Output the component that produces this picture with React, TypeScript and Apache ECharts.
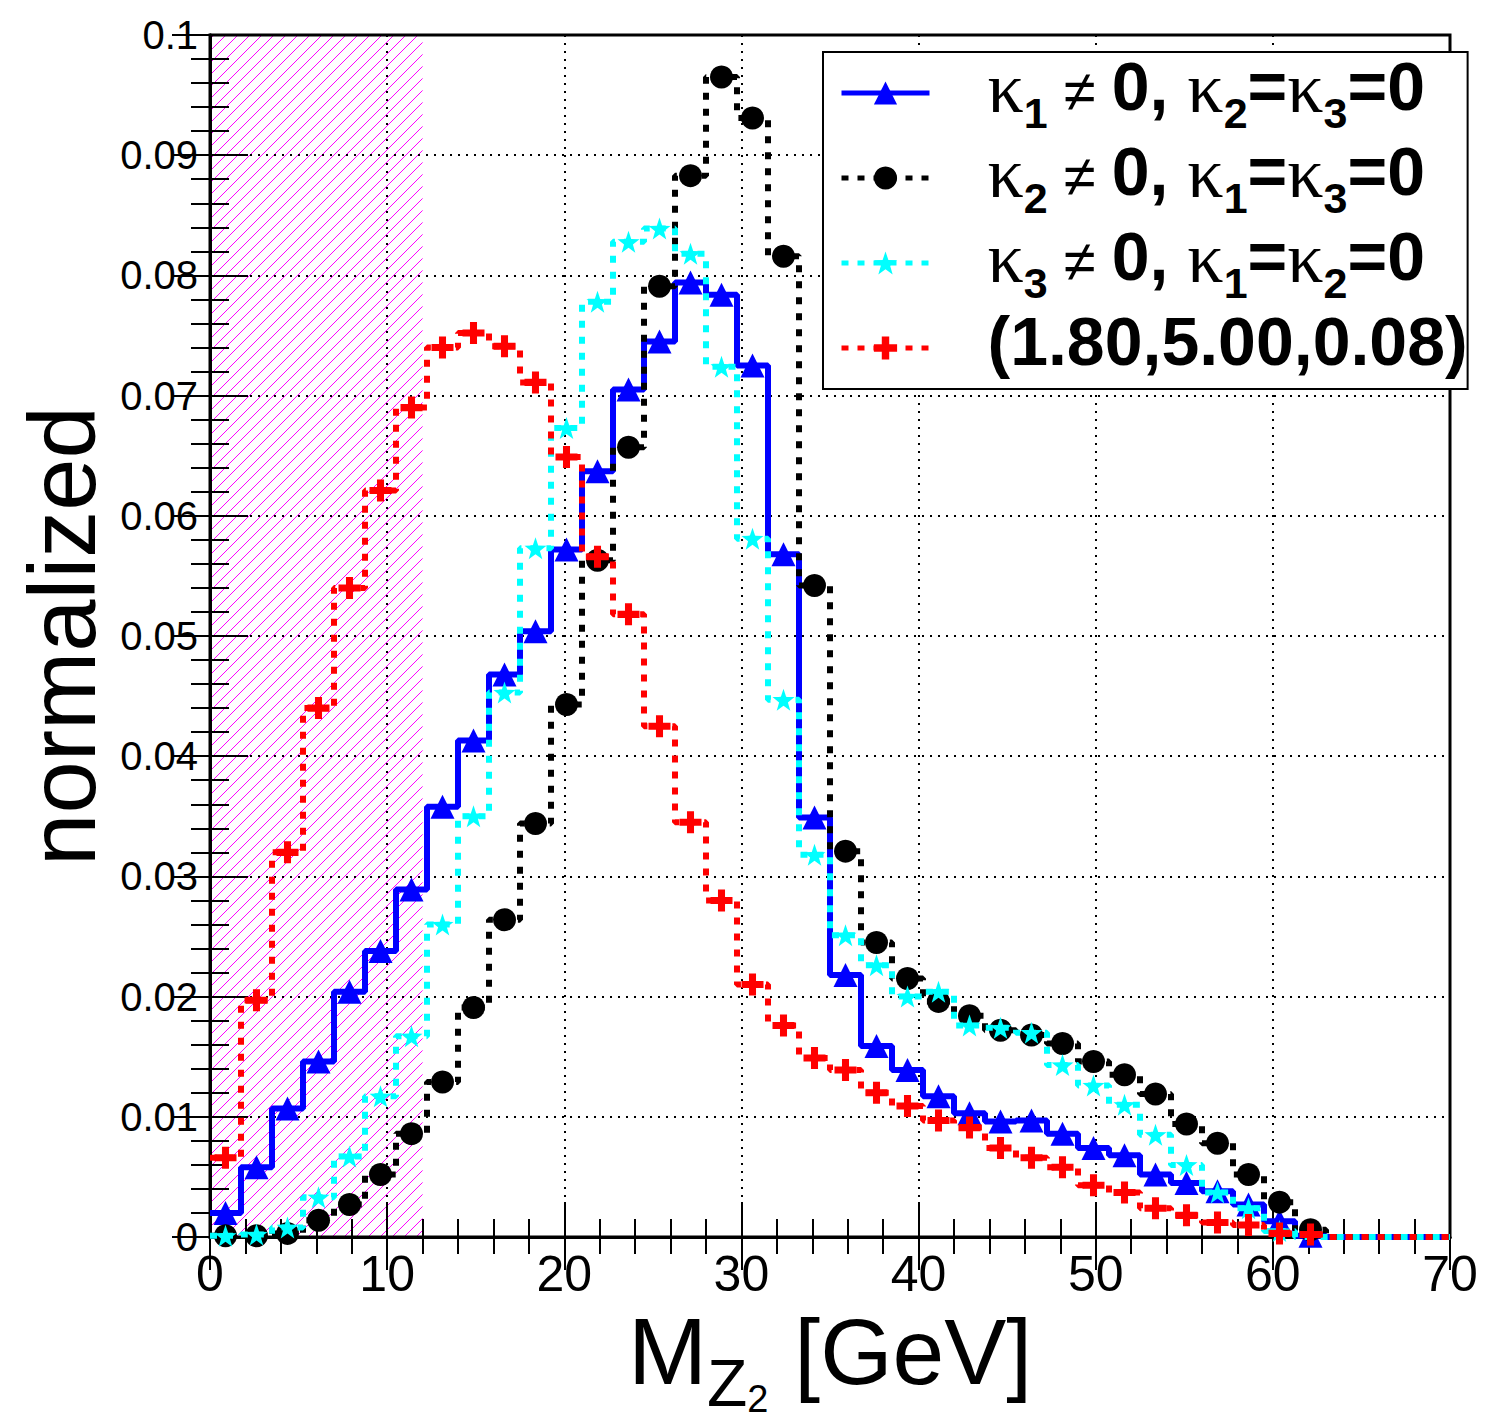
import React, { useEffect, useRef } from 'react';
import * as echarts from 'echarts';

// ---- binning / axes ----
const BIN_WIDTH = 1.75;
const X_MIN = 0;
const X_MAX = 70;
const Y_MIN = 0;
const Y_MAX = 0.1;
const X_TICK_LABELS = ['0', '10', '20', '30', '40', '50', '60', '70'];
const Y_TICK_LABELS = ['0', '0.01', '0.02', '0.03', '0.04', '0.05', '0.06', '0.07', '0.08', '0.09', '0.1'];
const HATCH_RANGE = [0, 12];

// ---- bin contents (40 bins of 1.75 GeV) ----
const KAPPA1 = [
  0.0020, 0.0058, 0.0107, 0.0146, 0.0204, 0.0238, 0.0289, 0.0358, 0.0413, 0.0468,
  0.0504, 0.0572, 0.0637, 0.0705, 0.0745, 0.0794, 0.0784, 0.0725, 0.0568, 0.0349,
  0.0218, 0.0159, 0.0139, 0.0117, 0.0103, 0.0096, 0.0097, 0.0086, 0.0074, 0.0068,
  0.0052, 0.0045, 0.0038, 0.0027, 0.0013, 0.0001, 0, 0, 0, 0,
];
const KAPPA2 = [
  0.0001, 0.0001, 0.0003, 0.0014, 0.0027, 0.0052, 0.0086, 0.0129, 0.0191, 0.0264,
  0.0344, 0.0443, 0.0563, 0.0657, 0.0791, 0.0883, 0.0965, 0.0931, 0.0816, 0.0542,
  0.0321, 0.0245, 0.0215, 0.0196, 0.0184, 0.0172, 0.0168, 0.0161, 0.0146, 0.0135,
  0.0119, 0.0094, 0.0078, 0.0052, 0.0029, 0.0006, 0, 0, 0, 0,
];
const KAPPA3 = [
  0.0001, 0.0002, 0.0008, 0.0033, 0.0067, 0.0117, 0.0167, 0.0260, 0.0350, 0.0453,
  0.0573, 0.0673, 0.0778, 0.0828, 0.0839, 0.0818, 0.0724, 0.0581, 0.0447, 0.0318,
  0.0251, 0.0226, 0.0200, 0.0204, 0.0176, 0.0174, 0.0170, 0.0143, 0.0126, 0.0110,
  0.0085, 0.0060, 0.0037, 0.0024, 0.0005, 0, 0, 0, 0, 0,
];
const MIXED = [
  0.0066, 0.0197, 0.0320, 0.0440, 0.0540, 0.0621, 0.0690, 0.0740, 0.0752, 0.0741,
  0.0711, 0.0649, 0.0566, 0.0518, 0.0425, 0.0345, 0.0280, 0.0210, 0.0176, 0.0149,
  0.0139, 0.0120, 0.0109, 0.0097, 0.0091, 0.0074, 0.0066, 0.0058, 0.0043, 0.0037,
  0.0024, 0.0018, 0.0012, 0.0010, 0.0003, 0.0002, 0, 0, 0, 0,
];

const SERIES_NAMES = ['kappa1', 'kappa2', 'kappa3', 'mixed'];
const SERIES_VALUES = [KAPPA1, KAPPA2, KAPPA3, MIXED];
const LEGEND_TEXT = [
  '{sp| }{k|κ}{s|1}{n| ≠ }{b|0, }{k|κ}{s|2}{b|=}{k|κ}{s|3}{b|=0}',
  '{sp| }{k|κ}{s|2}{n| ≠ }{b|0, }{k|κ}{s|1}{b|=}{k|κ}{s|3}{b|=0}',
  '{sp| }{k|κ}{s|3}{n| ≠ }{b|0, }{k|κ}{s|1}{b|=}{k|κ}{s|2}{b|=0}',
  '{sp| }{b|(1.80,5.00,0.08)}',
];

// ---- styles ----
const STAR = 'path://M0,-10 L2.35,-3.24 L9.51,-3.09 L3.8,1.24 L5.88,8.09 L0,4 L-5.88,8.09 L-3.8,1.24 L-9.51,-3.09 L-2.35,-3.24 Z';
const PLUS = 'path://M-3.2,-10 L3.2,-10 L3.2,-3.2 L10,-3.2 L10,3.2 L3.2,3.2 L3.2,10 L-3.2,10 L-3.2,3.2 L-10,3.2 L-10,-3.2 L-3.2,-3.2 Z';
const STYLES = [
  { color: '#0000ff', dash: 'solid', symbol: 'triangle', size: 24 },
  { color: '#000000', dash: [7, 9], symbol: 'circle', size: 23 },
  { color: '#00ffff', dash: [7, 9], symbol: STAR, size: 22 },
  { color: '#ff0000', dash: [7, 9], symbol: PLUS, size: 22 },
];

const FONT = 'Liberation Sans';

function histData(values: number[]) {
  const out: any[] = [];
  values.forEach((v, i) => {
    const lo = X_MIN + i * BIN_WIDTH;
    out.push({ value: [lo, v], symbol: 'none' });
    if (v > 0) out.push({ value: [lo + BIN_WIDTH / 2, v] });
    else out.push({ value: [lo + BIN_WIDTH / 2, v], symbol: 'none' });
  });
  out.push({ value: [X_MIN + values.length * BIN_WIDTH, values[values.length - 1]], symbol: 'none' });
  return out;
}

export default function App() {
  const ref = useRef<HTMLDivElement>(null);
  useEffect(() => {
    if (!ref.current) return;
    const chart = echarts.init(ref.current, null, { renderer: 'svg' });

    const tickStyle = { color: '#000', width: 2 };
    const axisLine = { show: true, lineStyle: { color: '#000', width: 3 } };
    const gridLine = { show: true, lineStyle: { color: '#000', width: 2, type: [2, 6] } };

    const lineSeries = SERIES_NAMES.map((name, i) => ({
      name,
      type: 'line',
      step: 'end',
      data: histData(SERIES_VALUES[i]),
      symbol: STYLES[i].symbol,
      symbolSize: STYLES[i].size,
      showSymbol: true,
      lineStyle: { color: STYLES[i].color, width: 6, type: STYLES[i].dash },
      itemStyle: { color: STYLES[i].color, borderWidth: 0 },
      z: 2 + i,
      silent: true,
      emphasis: { disabled: true },
    }));

    const hatch = {
      type: 'custom',
      silent: true,
      z: -1,
      xAxisIndex: 0,
      yAxisIndex: 0,
      data: [[HATCH_RANGE[0], HATCH_RANGE[1]]],
      encode: { x: [0, 1] },
      renderItem: (params: any, api: any) => {
        const tl = api.coord([api.value(0), Y_MAX]);
        const br = api.coord([api.value(1), Y_MIN]);
        const L = tl[0], T = tl[1], R = br[0], B = br[1];
        const s = 12;
        const children: any[] = [];
        for (let k = L + T + 4; k < R + B; k += s) {
          const x1 = Math.max(L, k - B);
          const x2 = Math.min(R, k - T);
          if (x2 <= x1) continue;
          children.push({
            type: 'line',
            shape: { x1, y1: k - x1, x2, y2: k - x2 },
            style: { stroke: '#ff00ff', lineWidth: 1 },
          });
        }
        return { type: 'group', children };
      },
    };

    chart.setOption({
      animation: false,
      backgroundColor: '#fff',
      grid: {
        left: 210, right: 35, top: 35, bottom: 184,
        outerBoundsMode: 'none',
        show: true, borderColor: '#000', borderWidth: 3, backgroundColor: 'transparent',
      },
      legend: {
        orient: 'vertical',
        left: 823,
        top: 52,
        padding: [0, 0, 0, 16],
        itemWidth: 88,
        itemHeight: 29,
        itemGap: 3,
        borderColor: '#000',
        borderWidth: 2,
        backgroundColor: '#fff',
        selectedMode: false,
        lineStyle: { width: 5 },
        data: SERIES_NAMES,
        formatter: (name: string) => LEGEND_TEXT[SERIES_NAMES.indexOf(name)],
        textStyle: {
          color: '#000',
          rich: {
            sp: { width: 53, fontSize: 20, verticalAlign: 'top', padding: [62, 0, 0, 0] },
            k: { fontFamily: 'Liberation Serif', fontSize: 72, color: '#000', verticalAlign: 'top', padding: [0, 0, 0, 0] },
            s: { fontFamily: FONT, fontWeight: 'bold', fontSize: 43, color: '#000', verticalAlign: 'bottom', padding: [0, 0, 0, 0] },
            n: { fontFamily: FONT, fontSize: 58, color: '#000', verticalAlign: 'top', padding: [9, 0, 0, 0] },
            b: { fontFamily: FONT, fontWeight: 'bold', fontSize: 68, color: '#000', verticalAlign: 'top', padding: [0, 0, 0, 0] },
          },
        },
      },
      xAxis: [
        {
          type: 'value', min: X_MIN, max: X_MAX, interval: 10, position: 'bottom',
          axisLine,
          axisTick: { show: true, inside: true, length: 35, lineStyle: tickStyle },
          minorTick: { show: true, splitNumber: 5, length: 18, lineStyle: tickStyle },
          splitLine: gridLine,
          axisLabel: {
            fontFamily: FONT, fontSize: 50, color: '#000', margin: 12,
            formatter: (v: number) => X_TICK_LABELS[Math.round(v / 10)],
          },
          name: '{m|M}{z|Z}{t|2}{g| [GeV]}',
          nameLocation: 'middle',
          nameGap: 53,
          nameTextStyle: {
            rich: {
              m: { fontFamily: FONT, fontSize: 95, color: '#000', verticalAlign: 'bottom', padding: [0, 0, 26, 0] },
              z: { fontFamily: FONT, fontSize: 66, color: '#000', verticalAlign: 'bottom', padding: [0, 0, 9, 0] },
              t: { fontFamily: FONT, fontSize: 38, color: '#000', verticalAlign: 'bottom', padding: [0, 0, 7, 0] },
              g: { fontFamily: FONT, fontSize: 93, color: '#000', verticalAlign: 'bottom', padding: [0, 0, 26, 0] },
            },
          },
        },
        {
          type: 'value', min: X_MIN, max: X_MAX, interval: 10, position: 'top',
          axisLine,
          axisTick: { show: true, inside: true, length: 33, lineStyle: tickStyle },
          minorTick: { show: true, splitNumber: 5, length: 17, lineStyle: tickStyle },
          splitLine: { show: false },
          axisLabel: { show: false },
        },
      ],
      yAxis: [
        {
          type: 'value', min: Y_MIN, max: Y_MAX, interval: 0.01, position: 'left',
          axisLine,
          axisTick: { show: true, inside: true, length: 38, lineStyle: tickStyle },
          minorTick: { show: true, splitNumber: 5, length: 19, lineStyle: tickStyle },
          splitLine: gridLine,
          axisLabel: {
            fontFamily: FONT, fontSize: 40, color: '#000', margin: 12,
            formatter: (v: number) => Y_TICK_LABELS[Math.round(v * 100)],
          },
          name: 'normalized',
          nameLocation: 'middle',
          nameGap: 99,
          nameTextStyle: { fontFamily: FONT, fontSize: 94, color: '#000' },
        },
        {
          type: 'value', min: Y_MIN, max: Y_MAX, interval: 0.01, position: 'right',
          axisLine,
          axisTick: { show: true, inside: true, length: 38, lineStyle: tickStyle },
          minorTick: { show: true, splitNumber: 5, length: 19, lineStyle: tickStyle },
          splitLine: { show: false },
          axisLabel: { show: false },
        },
      ],
      series: [hatch, ...lineSeries],
    });
    return () => chart.dispose();
  }, []);
  return <div ref={ref} style={{ position: 'fixed', left: 0, top: 0, width: 1485, height: 1421, background: '#fff' }} />;
}
